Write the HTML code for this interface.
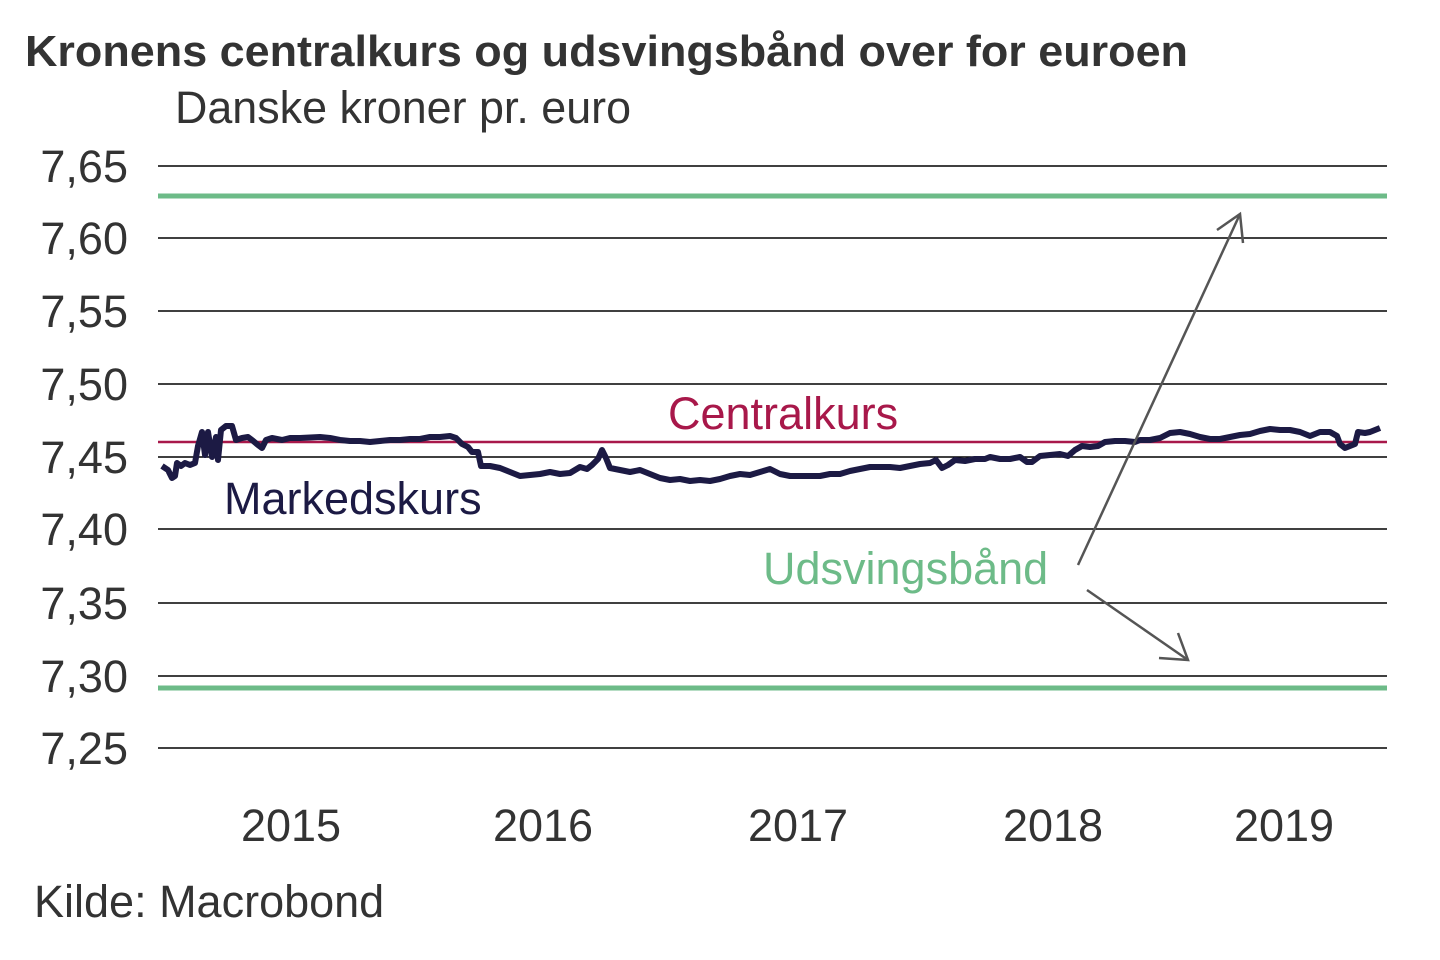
<!DOCTYPE html>
<html><head><meta charset="utf-8"><style>body{margin:0;background:#fff}svg{display:block}text{font-family:"Liberation Sans",sans-serif}</style></head><body>
<svg width="1440" height="960" viewBox="0 0 1440 960" xmlns="http://www.w3.org/2000/svg">
<text x="25" y="66" font-size="44" font-weight="bold" fill="#333" textLength="1163" lengthAdjust="spacingAndGlyphs">Kronens centralkurs og udsvingsbånd over for euroen</text>
<text x="175" y="123" font-size="45" fill="#333" textLength="456" lengthAdjust="spacingAndGlyphs">Danske kroner pr. euro</text>
<g stroke="#000" stroke-width="1.5">
<line x1="158" x2="1387" y1="166" y2="166"/><line x1="158" x2="1387" y1="238" y2="238"/><line x1="158" x2="1387" y1="311" y2="311"/><line x1="158" x2="1387" y1="384" y2="384"/><line x1="158" x2="1387" y1="457" y2="457"/><line x1="158" x2="1387" y1="529" y2="529"/><line x1="158" x2="1387" y1="603" y2="603"/><line x1="158" x2="1387" y1="676" y2="676"/><line x1="158" x2="1387" y1="748" y2="748"/>
</g>
<g font-size="45" fill="#333" text-anchor="end">
<text x="128" y="182">7,65</text><text x="128" y="254">7,60</text><text x="128" y="327">7,55</text><text x="128" y="400">7,50</text><text x="128" y="473">7,45</text><text x="128" y="545">7,40</text><text x="128" y="619">7,35</text><text x="128" y="692">7,30</text><text x="128" y="764">7,25</text>
</g>
<line x1="158" x2="1387" y1="196" y2="196" stroke="#6dbb88" stroke-width="5"/>
<line x1="158" x2="1387" y1="688" y2="688" stroke="#6dbb88" stroke-width="5"/>
<line x1="158" x2="1387" y1="442" y2="442" stroke="#a8184a" stroke-width="2.5"/>
<polyline fill="none" stroke="#1c1a44" stroke-width="6" stroke-linejoin="round" points="162,466 168,470 172,478 175,476 177,463 181,466 185,463 190,465 195,463 198,446 202,432 205,455 208,432 212,457 216,437 218,460 221,430 226,426 232,426 236,440 242,438 248,437 252,440 258,445 262,448 266,440 272,438 282,440 290,438 300,438 320,437 330,438 340,440 350,441 360,441 370,442 380,441 390,440 400,440 410,439 420,439 430,437 440,437 450,436 456,438 462,444 468,447 472,452 478,452 481,466 490,466 500,468 510,472 520,476 530,475 540,474 550,472 560,474 570,473 580,467 587,469 592,465 598,459 602,450 606,458 610,468 620,470 630,472 640,470 650,474 660,478 670,480 680,479 690,481 700,480 710,481 720,479 730,476 740,474 750,475 760,472 770,469 780,474 790,476 800,476 810,476 820,476 830,474 840,474 850,471 860,469 870,467 880,467 890,467 900,468 910,466 920,464 930,463 936,460 942,468 948,465 955,460 965,461 975,459 985,459 990,457 1000,459 1010,459 1020,457 1027,462 1032,462 1040,456 1050,455 1060,454 1068,456 1075,450 1082,446 1090,447 1098,446 1105,442 1115,441 1125,441 1135,442 1140,440 1150,440 1160,438 1170,433 1180,432 1190,434 1200,437 1210,439 1220,439 1230,437 1240,435 1250,434 1260,431 1270,429 1280,430 1290,430 1300,432 1310,436 1320,432 1330,432 1337,436 1340,444 1345,448 1350,446 1355,444 1358,432 1365,433 1370,432 1375,430 1380,428"/>
<g stroke="#555" stroke-width="2.5" fill="none">
<line x1="1078" y1="565" x2="1240" y2="214"/><polyline points="1217,230 1240,214 1243,243"/>
<line x1="1087" y1="590" x2="1188" y2="660"/><polyline points="1159,658 1188,660 1178,633"/>
</g>
<text x="668" y="429" font-size="45" fill="#a8184a">Centralkurs</text>
<text x="224" y="514" font-size="45" fill="#1c1a44">Markedskurs</text>
<text x="763" y="584" font-size="45" fill="#6dbb88">Udsvingsbånd</text>
<g font-size="45" fill="#333" text-anchor="middle">
<text x="291" y="841">2015</text><text x="543" y="841">2016</text><text x="798" y="841">2017</text><text x="1053" y="841">2018</text><text x="1284" y="841">2019</text>
</g>
<text x="34" y="917" font-size="45" fill="#333">Kilde: Macrobond</text>
</svg>
</body></html>
